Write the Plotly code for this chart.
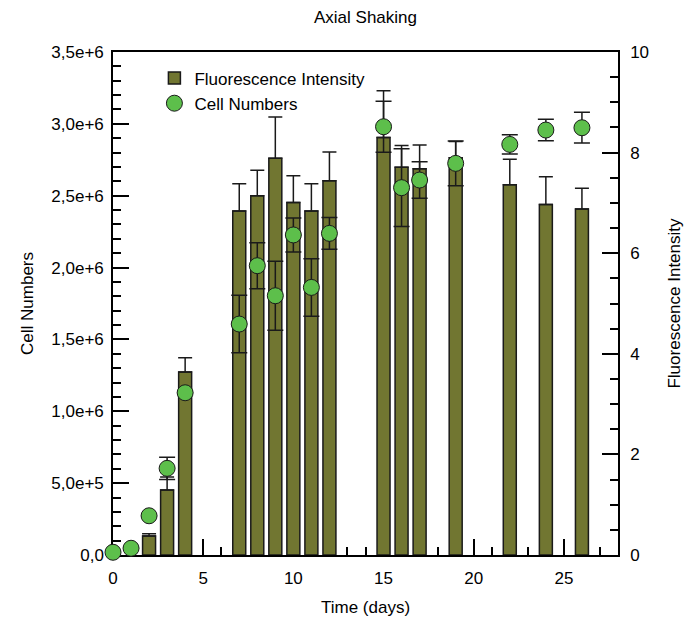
import plotly.graph_objects as go

# ---- data ----
bar_days = [2, 3, 4, 7, 8, 9, 10, 11, 12, 15, 16, 17, 19, 22, 24, 26]
fluorescence = [0.38, 1.29, 3.64, 6.84, 7.14, 7.89, 7.01, 6.84, 7.44, 8.30, 7.71, 7.68, 7.90, 7.36, 6.97, 6.88]
fluorescence_err = [0.04, 0.26, 0.28, 0.54, 0.51, 0.82, 0.53, 0.54, 0.57, 0.93, 0.43, 0.47, 0.32, 0.51, 0.55, 0.41]

cell_days = [0, 1, 2, 3, 4, 7, 8, 9, 10, 11, 12, 15, 16, 17, 19, 22, 24, 26]
cell_numbers = [1.9e4, 4.7e4, 2.73e5, 6.03e5, 1.129e6, 1.607e6, 2.013e6, 1.804e6, 2.227e6,
                1.862e6, 2.238e6, 2.98e6, 2.556e6, 2.609e6, 2.725e6, 2.857e6, 2.957e6, 2.973e6]
cell_err = [0, 0, 0, 7.7e4, 0, 2.0e5, 1.6e5, 2.4e5, 1.18e5, 2.0e5, 1.1e5, 1.77e5, 2.7e5,
            1.27e5, 1.55e5, 6.7e4, 7.5e4, 1.07e5]

x_ticks = [0, 5, 10, 15, 20, 25]
left_tickvals = [0, 5e5, 1e6, 1.5e6, 2e6, 2.5e6, 3e6, 3.5e6]
left_ticktext = ["0,0", "5,0e+5", "1,0e+6", "1,5e+6", "2,0e+6", "2,5e+6", "3,0e+6", "3,5e+6"]
right_ticks = [0, 2, 4, 6, 8, 10]

FONT = "Liberation Sans, Arial, sans-serif"
BAR_COLOR = "#717631"
DOT_COLOR = "#5dbf4b"
EDGE = "#1a1a1a"

W, H = 690, 616  # page body adds an 8px offset in the 698x624 window

fig = go.Figure()

fig.add_trace(go.Bar(
    x=bar_days, y=fluorescence, name="Fluorescence Intensity",
    width=0.72,
    marker=dict(color=BAR_COLOR, line=dict(color=EDGE, width=1.5)),
    error_y=dict(type="data", array=fluorescence_err, arrayminus=[0] * len(fluorescence_err),
                 symmetric=False, color=EDGE, thickness=1.5, width=7),
    yaxis="y",
))

fig.add_trace(go.Scatter(
    x=cell_days, y=cell_numbers, name="Cell Numbers", mode="markers",
    marker=dict(color=DOT_COLOR, size=16, line=dict(color=EDGE, width=1)),
    error_y=dict(type="data", array=cell_err, color=EDGE, thickness=1.5, width=8),
    cliponaxis=False,
    yaxis="y2",
))

axis_common = dict(
    showgrid=False, zeroline=False, showline=True, linecolor="black", linewidth=1.5,
    ticks="inside", tickcolor="black", tickwidth=1.5, ticklen=16,
    tickfont=dict(family=FONT, size=17, color="black"),
    layer="below traces", automargin=False,
)

fig.update_layout(
    width=W, height=H, autosize=False,
    margin=dict(l=105, r=80, t=44, b=69),
    paper_bgcolor="white", plot_bgcolor="white",
    font=dict(family=FONT, size=17, color="black"),
    title=dict(text="Axial Shaking", x=0.5, xref="paper", xanchor="center",
               y=1 - 9 / H, yanchor="middle", font=dict(family=FONT, size=17)),
    showlegend=True,
    legend=dict(x=0.082, y=0.983, xanchor="left", yanchor="top",
                bgcolor="rgba(0,0,0,0)", borderwidth=0,
                font=dict(family=FONT, size=17), traceorder="normal"),
    xaxis=dict(
        range=[0, 28], tickmode="array", tickvals=x_ticks, mirror=True,
        minor=dict(dtick=1, tick0=0, ticks="inside", ticklen=8, tickwidth=1.5, tickcolor="black"),
        title=dict(text="Time (days)", standoff=14, font=dict(family=FONT, size=17)),
        ticklabelstandoff=7,
        **axis_common,
    ),
    yaxis=dict(
        side="right", range=[0, 10], tickmode="array", tickvals=right_ticks,
        minor=dict(dtick=0.5, tick0=0, ticks="inside", ticklen=8, tickwidth=1.5, tickcolor="black"),
        title=dict(text="Fluorescence Intensity", standoff=20, font=dict(family=FONT, size=17)),
        ticklabelstandoff=7,
        **axis_common,
    ),
    yaxis2=dict(
        side="left", overlaying="y", range=[0, 3.5e6], tickmode="array",
        tickvals=left_tickvals, ticktext=left_ticktext,
        minor=dict(dtick=1e5, tick0=0, ticks="inside", ticklen=8, tickwidth=1.5, tickcolor="black"),
        title=dict(text="Cell Numbers", standoff=13, font=dict(family=FONT, size=17)),
        ticklabelstandoff=4,
        **axis_common,
    ),
)

fig.write_html("out.html")
